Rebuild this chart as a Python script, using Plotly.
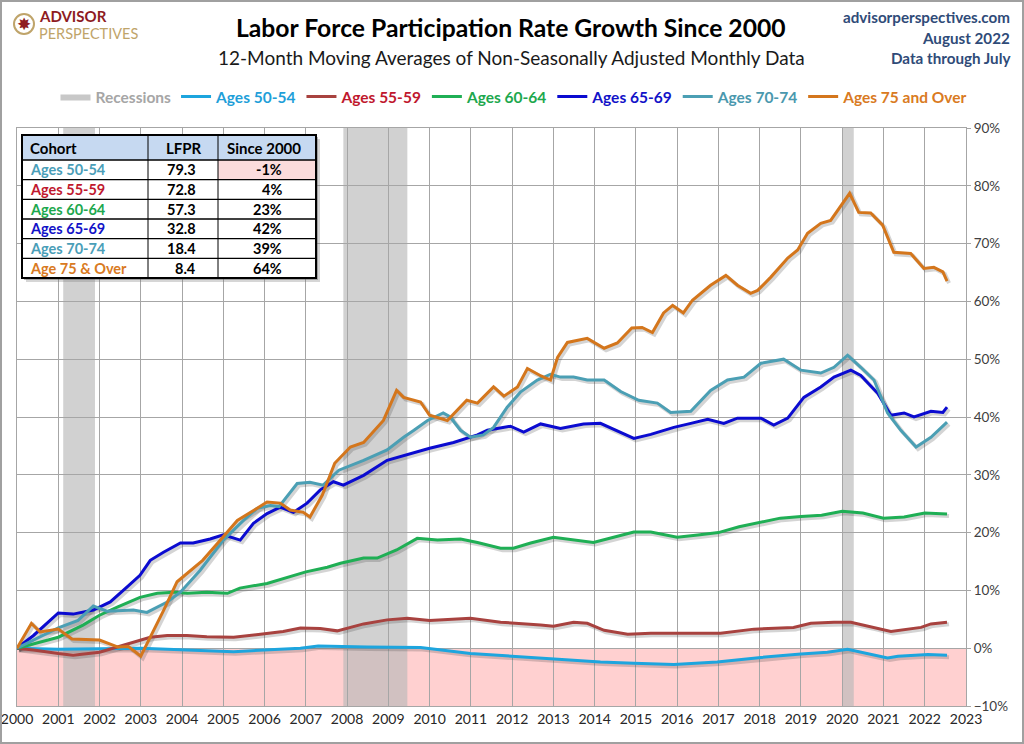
import plotly.graph_objects as go

# ---------------- DATA ----------------
X_50_54 = [2000, 2001.0, 2003.0, 2005.25, 2006.87, 2007.3, 2008.49, 2009.78, 2010.99, 2012.03, 2013.0, 2014.14,
           2014.95, 2015.92, 2016.97, 2018.03, 2019.0, 2019.64, 2020.13, 2020.45, 2021.1, 2021.35, 2022.08, 2022.54]
Y_50_54 = [0, -0.2, 0.0, -0.6, 0.0, 0.4, 0.2, 0.1, -0.9, -1.4, -1.9, -2.4,
           -2.6, -2.8, -2.4, -1.6, -1.0, -0.7, -0.2, -0.7, -1.7, -1.4, -1.1, -1.2]

X_55_59 = [2000, 2000.4, 2001.0, 2001.36, 2002.0, 2002.43, 2002.82, 2003.23, 2003.64, 2004.12, 2004.6, 2005.25,
           2005.9, 2006.45, 2006.87, 2007.35, 2007.76, 2008.4, 2008.97, 2009.46, 2010.0, 2010.99, 2011.72, 2012.2,
           2012.69, 2013.0, 2013.49, 2013.82, 2014.23, 2014.8, 2015.36, 2016.0, 2017.05, 2017.86, 2018.82, 2019.24,
           2019.8, 2020.21, 2020.77, 2021.18, 2021.91, 2022.15, 2022.54]
Y_55_59 = [0, -0.3, -0.9, -1.2, -0.7, 0.2, 1.0, 1.9, 2.2, 2.2, 2.0, 1.9,
           2.4, 2.9, 3.5, 3.4, 3.0, 4.2, 4.9, 5.2, 4.8, 5.2, 4.5, 4.3,
           4.0, 3.8, 4.5, 4.3, 3.1, 2.4, 2.6, 2.6, 2.6, 3.3, 3.6, 4.3,
           4.5, 4.5, 3.6, 2.9, 3.6, 4.2, 4.5]

X_60_64 = [2000, 2001.0, 2001.6, 2002.0, 2002.43, 2002.98, 2003.4, 2003.8, 2004.12, 2004.6, 2005.1, 2005.4,
           2006.06, 2006.7, 2007.0, 2007.52, 2007.84, 2008.4, 2008.73, 2009.2, 2009.7, 2010.19, 2010.75, 2011.16,
           2011.72, 2012.03, 2012.45, 2013.0, 2013.49, 2013.97, 2014.46, 2014.95, 2015.36, 2016.0, 2016.5, 2017.0,
           2017.5, 2018.0, 2018.5, 2019.0, 2019.5, 2020.0, 2020.5, 2021.0, 2021.5, 2022.0, 2022.54]
Y_60_64 = [0, 1.9, 4.0, 5.7, 7.1, 8.8, 9.5, 9.7, 9.5, 9.7, 9.5, 10.4,
           11.2, 12.6, 13.2, 14.0, 14.7, 15.6, 15.6, 17.0, 19.0, 18.7, 18.9, 18.3,
           17.3, 17.3, 18.2, 19.2, 18.7, 18.3, 19.2, 20.1, 20.1, 19.2, 19.6, 20.0,
           21.0, 21.8, 22.5, 22.8, 23.0, 23.7, 23.4, 22.5, 22.7, 23.4, 23.2]

X_65_69 = [2000, 2000.4, 2001.0, 2001.36, 2001.85, 2002.26, 2002.67, 2002.98, 2003.23, 2003.55, 2003.96, 2004.27,
           2004.68, 2005.0, 2005.41, 2005.73, 2006.06, 2006.38, 2006.7, 2007.03, 2007.35, 2007.67, 2007.91, 2008.4,
           2008.97, 2009.53, 2010.0, 2010.58, 2011.16, 2011.4, 2011.96, 2012.28, 2012.69, 2013.17, 2013.73, 2014.14,
           2014.63, 2014.95, 2015.36, 2015.92, 2016.33, 2016.74, 2017.13, 2017.46, 2018.03, 2018.34, 2018.68, 2019.07,
           2019.48, 2019.8, 2020.21, 2020.45, 2020.86, 2021.18, 2021.5, 2021.74, 2022.15, 2022.44, 2022.54]
Y_65_69 = [0, 2.2, 6.1, 5.9, 6.6, 8.0, 10.6, 12.6, 15.2, 16.6, 18.2, 18.2,
           18.9, 19.6, 18.7, 21.6, 23.3, 24.4, 23.5, 25.1, 27.4, 28.8, 28.2, 29.9,
           32.5, 33.7, 34.6, 35.6, 36.9, 37.7, 38.4, 37.4, 38.8, 38.0, 38.8, 38.9,
           37.3, 36.3, 37.0, 38.2, 38.9, 39.6, 38.9, 39.8, 39.8, 38.6, 39.8, 43.4,
           45.2, 46.9, 48.1, 47.2, 44.1, 40.3, 40.7, 40.0, 41.0, 40.8, 41.7]

X_70_74 = [2000, 2000.5, 2001.0, 2001.48, 2001.85, 2002.18, 2002.82, 2003.15, 2003.64, 2003.96, 2004.44, 2005.0,
           2005.49, 2005.82, 2006.14, 2006.35, 2006.79, 2007.1, 2007.42, 2007.8, 2008.4, 2008.97, 2009.37, 2009.62,
           2009.95, 2010.33, 2010.5, 2010.75, 2010.99, 2011.3, 2011.55, 2011.88, 2012.2, 2012.61, 2012.93, 2013.17,
           2013.49, 2013.82, 2014.23, 2014.63, 2015.07, 2015.52, 2015.84, 2016.33, 2016.81, 2017.22, 2017.62, 2018.03,
           2018.58, 2019.0, 2019.48, 2019.8, 2020.13, 2020.45, 2020.77, 2021.1, 2021.42, 2021.79, 2022.15, 2022.54]
Y_70_74 = [0, 1.8, 3.5, 4.8, 7.3, 6.4, 6.6, 6.2, 8.0, 9.7, 13.5, 18.7,
           22.1, 24.2, 24.7, 24.5, 28.5, 28.7, 28.2, 30.8, 32.5, 34.3, 36.5, 37.7,
           39.4, 40.7, 40.0, 37.7, 36.5, 36.9, 38.2, 41.7, 44.3, 46.4, 47.4, 46.9,
           46.9, 46.4, 46.4, 44.4, 42.9, 42.4, 40.8, 41.0, 44.6, 46.4, 46.9, 49.3,
           50.0, 48.1, 47.6, 48.6, 50.7, 48.6, 46.4, 40.7, 37.7, 34.8, 36.5, 39.1]

X_75_UP = [2000, 2000.35, 2000.56, 2001.0, 2001.33, 2002.0, 2002.45, 2002.7, 2003.0, 2003.3, 2003.55, 2003.88,
           2004.2, 2004.5, 2004.93, 2005.34, 2005.82, 2006.06, 2006.38, 2006.62, 2006.94, 2007.1, 2007.4, 2007.7,
           2008.08, 2008.4, 2008.88, 2009.2, 2009.37, 2009.78, 2010.0, 2010.43, 2010.9, 2011.16, 2011.55, 2011.8,
           2012.13, 2012.37, 2012.7, 2012.93, 2013.1, 2013.34, 2013.82, 2014.23, 2014.55, 2014.9, 2015.15, 2015.4,
           2015.67, 2015.89, 2016.15, 2016.37, 2016.81, 2017.18, 2017.46, 2017.78, 2017.95, 2018.27, 2018.68, 2018.92,
           2019.16, 2019.48, 2019.72, 2019.97, 2020.18, 2020.4, 2020.69, 2020.98, 2021.25, 2021.66, 2021.98, 2022.22,
           2022.44, 2022.54]
Y_75_UP = [0, 4.3, 2.8, 3.3, 1.6, 1.4, 0.2, 0.3, -1.4, 2.8, 6.5, 11.5,
           13.5, 15.2, 18.7, 22.1, 24.2, 25.3, 25.1, 23.9, 23.5, 22.7, 26.5, 32.0,
           34.8, 35.6, 39.4, 44.6, 43.4, 42.6, 40.3, 39.4, 42.9, 42.4, 45.2, 43.6,
           45.2, 48.4, 47.1, 46.4, 50.3, 52.9, 53.6, 51.9, 52.8, 55.4, 55.5, 54.6,
           58.0, 59.3, 58.0, 60.2, 62.8, 64.5, 62.8, 61.4, 61.9, 64.2, 67.5, 68.9,
           71.8, 73.5, 74.0, 76.6, 78.7, 75.4, 75.3, 73.2, 68.5, 68.3, 65.7, 65.9,
           65.1, 63.5]

SERIES_NAMES = ["Ages 50-54", "Ages 55-59", "Ages 60-64", "Ages 65-69", "Ages 70-74", "Ages 75 and Over"]
SERIES_X = [X_50_54, X_55_59, X_60_64, X_65_69, X_70_74, X_75_UP]
SERIES_Y = [Y_50_54, Y_55_59, Y_60_64, Y_65_69, Y_70_74, Y_75_UP]

RECESSION_START = [2001.12, 2007.91, 2020.0]
RECESSION_END = [2001.89, 2009.46, 2020.28]

X_TICKS = list(range(2000, 2024))
Y_RANGE = [-10, 90]

TABLE_HEADER = ["Cohort", "LFPR", "Since 2000"]
TABLE_COHORT = ["Ages 50-54", "Ages 55-59", "Ages 60-64", "Ages 65-69", "Ages 70-74", "Age 75 & Over"]
TABLE_LFPR = [79.3, 72.8, 57.3, 32.8, 18.4, 8.4]
TABLE_SINCE_2000 = [-1, 4, 23, 42, 39, 64]

# ---------------- STYLE ----------------
LINE_COLORS = ["#1DA5DE", "#A8423F", "#1FAF55", "#0B0BD0", "#4B9FB4", "#D4761C"]
TEXT_COLORS = ["#1F9FD9", "#C0182E", "#1DA84E", "#1212C8", "#4A98AE", "#D97A22"]
TABLE_TEXT_COLORS = ["#4A9EB8", "#C0182E", "#1DA84E", "#1212C8", "#4A9EB8", "#D97A22"]
FONT = "Lato, 'Open Sans', sans-serif"

W, H = 1024, 744
ML, MR, MT, MB = 17, 58, 128, 38
PW, PH = W - ML - MR, H - MT - MB
SHADOW_PX = 2  # drop-shadow offset in pixels


def pxx(px):
    return (px - ML) / PW


def pxy(py):
    return (H - MB - py) / PH


X_RANGE = [X_TICKS[0], X_TICKS[-1]]
x_per_px = (X_RANGE[1] - X_RANGE[0]) / PW
y_per_px = (Y_RANGE[1] - Y_RANGE[0]) / PH
X_RANGE_SHADOW = [X_RANGE[0] - SHADOW_PX * x_per_px, X_RANGE[1] - SHADOW_PX * x_per_px]
Y_RANGE_SHADOW = [Y_RANGE[0] + SHADOW_PX * y_per_px, Y_RANGE[1] + SHADOW_PX * y_per_px]

fig = go.Figure()

# Recessions legend entry (shading itself drawn as shapes below gridlines)
fig.add_trace(go.Scatter(
    x=[None], y=[None], mode="lines", fill="toself", xaxis="x3", yaxis="y3",
    fillcolor="rgba(200,200,200,1)", line=dict(color="rgba(200,200,200,1)", width=0),
    name='<b><span style="color:#A6A6A6">Recessions</span></b>', hoverinfo="skip"))

# soft drop shadows (same data, on an overlay axis whose range is offset by a couple of pixels)
for xs, ys in zip(SERIES_X, SERIES_Y):
    fig.add_trace(go.Scatter(x=xs, y=ys, mode="lines", xaxis="x2", yaxis="y2", showlegend=False,
                             line=dict(color="rgba(60,60,60,0.22)", width=4), hoverinfo="skip"))

for name, xs, ys, lc, tc in zip(SERIES_NAMES, SERIES_X, SERIES_Y, LINE_COLORS, TEXT_COLORS):
    fig.add_trace(go.Scatter(
        x=xs, y=ys, mode="lines", line=dict(color=lc, width=3), xaxis="x3", yaxis="y3",
        name=f'<b><span style="color:{tc}">{name}</span></b>'))

shapes = []
# pink negative region
shapes.append(dict(type="rect", xref="paper", yref="y", x0=0, x1=1, y0=Y_RANGE[0], y1=0,
                   fillcolor="#FFD0D0", line=dict(width=0), layer="below"))
for s, e in zip(RECESSION_START, RECESSION_END):
    shapes.append(dict(type="rect", xref="x", yref="y", x0=s, x1=e, y0=Y_RANGE[0], y1=Y_RANGE[1],
                       fillcolor="rgba(185,185,185,0.65)", line=dict(width=0), layer="below"))
# outer frame
shapes.append(dict(type="rect", xref="paper", yref="paper", x0=pxx(1), x1=pxx(W - 1), y0=pxy(H - 1), y1=pxy(1),
                   line=dict(color="#A0A0A0", width=2), fillcolor="rgba(0,0,0,0)", layer="above"))
# logo compass
shapes.append(dict(type="circle", xref="paper", yref="paper", x0=pxx(14), x1=pxx(34), y0=pxy(34), y1=pxy(14),
                   line=dict(color="#BFA46A", width=2), fillcolor="rgba(0,0,0,0)"))


def rect(x0, y0, x1, y1, fill, lw=0, lc="#000000"):
    return dict(type="rect", xref="paper", yref="paper", x0=pxx(x0), x1=pxx(x1), y0=pxy(y1), y1=pxy(y0),
                fillcolor=fill, line=dict(width=lw, color=lc), layer="above")


def hline(x0, x1, y, lw=1):
    return dict(type="line", xref="paper", yref="paper", x0=pxx(x0), x1=pxx(x1), y0=pxy(y), y1=pxy(y),
                line=dict(width=lw, color="#000000"), layer="above")


def vline(x, y0, y1, lw=1):
    return dict(type="line", xref="paper", yref="paper", x0=pxx(x), x1=pxx(x), y0=pxy(y1), y1=pxy(y0),
                line=dict(width=lw, color="#000000"), layer="above")


# ---- summary table (drawn as boxes + text) ----
TX0, TX1, TY0, THEAD = 22, 316, 135, 160
COLS = [22, 148, 218, 316]
ROW_H = 19.67
n_rows = len(TABLE_COHORT)
TY1 = THEAD + ROW_H * n_rows
shapes.append(rect(TX0 + 4, TY0 + 4, TX1 + 4, TY1 + 4, "rgba(120,120,120,0.30)"))
shapes.append(rect(TX0 + 2, TY0 + 2, TX1 + 2, TY1 + 2, "rgba(80,80,80,0.40)"))
shapes.append(rect(TX0, TY0, TX1, THEAD, "#C6D9F1"))
shapes.append(rect(TX0, THEAD, TX1, TY1, "#FFFFFF"))
for i, v in enumerate(TABLE_SINCE_2000):
    if v < 0:
        shapes.append(rect(COLS[2], THEAD + ROW_H * i, COLS[3], THEAD + ROW_H * (i + 1), "#FBDCDC"))
for i in range(n_rows):
    shapes.append(hline(TX0, TX1, THEAD + ROW_H * i, 1.3))
for cx in COLS[1:3]:
    shapes.append(vline(cx, TY0, TY1, 1))
shapes.append(rect(TX0, TY0, TX1, TY1, "rgba(0,0,0,0)", 2))

annotations = [
    dict(text="<b>Labor Force Participation Rate Growth Since 2000</b>", x=pxx(511), y=pxy(27),
         xref="paper", yref="paper", showarrow=False, font=dict(family=FONT, size=24.7, color="#000000"),
         xanchor="center", yanchor="middle"),
    dict(text="12-Month Moving Averages of Non-Seasonally Adjusted Monthly Data", x=pxx(511), y=pxy(58),
         xref="paper", yref="paper", showarrow=False, font=dict(family=FONT, size=19, color="#1A1A1A"),
         xanchor="center", yanchor="middle"),
    dict(text="<b>advisorperspectives.com</b>", x=pxx(1012), y=pxy(17), xref="paper", yref="paper",
         showarrow=False, font=dict(family=FONT, size=15.2, color="#2F4B78"), xanchor="right", yanchor="middle"),
    dict(text="<b>August 2022</b>", x=pxx(1012), y=pxy(38), xref="paper", yref="paper",
         showarrow=False, font=dict(family=FONT, size=15.2, color="#2F4B78"), xanchor="right", yanchor="middle"),
    dict(text="<b>Data through July</b>", x=pxx(1012), y=pxy(58), xref="paper", yref="paper",
         showarrow=False, font=dict(family=FONT, size=15.2, color="#2F4B78"), xanchor="right", yanchor="middle"),
    dict(text="<b>ADVISOR</b>", x=pxx(37), y=pxy(16), xref="paper", yref="paper", showarrow=False,
         font=dict(family=FONT, size=15, color="#8E1B22"), xanchor="left", yanchor="middle"),
    dict(text="PERSPECTIVES", x=pxx(37), y=pxy(33), xref="paper", yref="paper", showarrow=False,
         font=dict(family=FONT, size=14.5, color="#BFA46A"), xanchor="left", yanchor="middle"),
    dict(text="✸", x=pxx(24), y=pxy(24), xref="paper", yref="paper", showarrow=False,
         font=dict(family="DejaVu Sans", size=17, color="#8E1B22"), xanchor="center", yanchor="middle"),
]


def cell_text(text, x, y, anchor, color="#000000", size=14.5):
    return dict(text=f"<b>{text}</b>", x=pxx(x), y=pxy(y), xref="paper", yref="paper", showarrow=False,
                xanchor=anchor, yanchor="middle", font=dict(family=FONT, size=size, color=color))


hy = (TY0 + THEAD) / 2
annotations.append(cell_text(TABLE_HEADER[0], 28, hy, "left", size=15))
annotations.append(cell_text(TABLE_HEADER[1], 184, hy, "center", size=15))
annotations.append(cell_text(TABLE_HEADER[2], 264, hy, "center", size=15))
for i in range(n_rows):
    ry = THEAD + ROW_H * (i + 0.5)
    annotations.append(cell_text(TABLE_COHORT[i], 28, ry, "left", TABLE_TEXT_COLORS[i]))
    annotations.append(cell_text(f"{TABLE_LFPR[i]:.1f}", 198, ry, "right"))
    annotations.append(cell_text(f"{TABLE_SINCE_2000[i]}%", 284, ry, "right"))

hidden_axis = dict(visible=False, showgrid=False, zeroline=False, fixedrange=True)

fig.update_layout(
    width=W, height=H,
    margin=dict(l=ML, r=MR, t=MT, b=MB, autoexpand=False),
    paper_bgcolor="white", plot_bgcolor="white",
    font=dict(family=FONT),
    showlegend=True,
    hovermode=False,
    legend=dict(orientation="h", x=pxx(514), xanchor="center", y=pxy(97), yanchor="middle",
                font=dict(family=FONT, size=15.5), itemwidth=30, bgcolor="rgba(0,0,0,0)",
                traceorder="normal"),
    xaxis=dict(range=X_RANGE, tickmode="array", tickvals=X_TICKS,
               ticktext=[str(t) for t in X_TICKS], showgrid=True, gridcolor="#A6A6A6", gridwidth=1,
               showline=True, linecolor="#A6A6A6", linewidth=1, mirror=True, zeroline=False,
               tickfont=dict(family=FONT, size=14, color="#262626"), ticks="", automargin=False),
    yaxis=dict(range=Y_RANGE, dtick=10, side="right", ticksuffix="%", showgrid=True,
               gridcolor="#A6A6A6", gridwidth=1, zeroline=True, zerolinecolor="#A6A6A6", zerolinewidth=1,
               showline=True, linecolor="#A6A6A6", linewidth=1, mirror=True,
               ticks="outside", ticklen=4, tickcolor="#A6A6A6", automargin=False,
               tickfont=dict(family=FONT, size=13.5, color="#404040")),
    xaxis2=dict(hidden_axis, range=X_RANGE_SHADOW, overlaying="x"),
    yaxis2=dict(hidden_axis, range=Y_RANGE_SHADOW, overlaying="y"),
    xaxis3=dict(hidden_axis, range=X_RANGE, overlaying="x"),
    yaxis3=dict(hidden_axis, range=Y_RANGE, overlaying="y"),
    shapes=shapes,
    annotations=annotations,
)

fig.write_html("out.html", config={"displayModeBar": False},
               post_script="document.body.style.margin='0';document.body.style.overflow='hidden';")
